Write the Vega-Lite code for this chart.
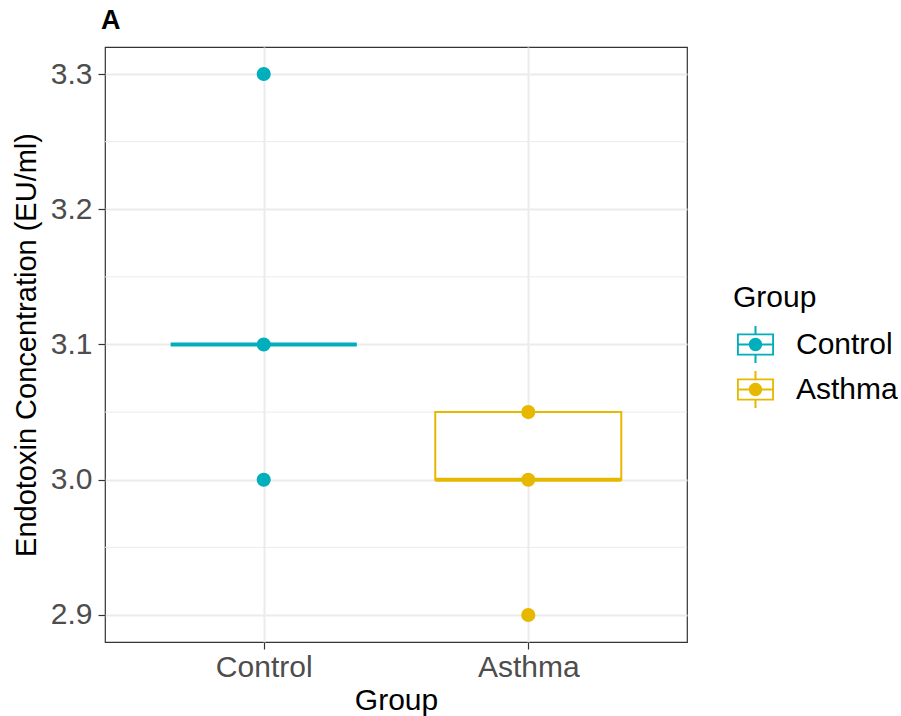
{
  "$schema": "https://vega.github.io/schema/vega-lite/v6.json",
  "width": 582,
  "height": 595,
  "autosize": {"type": "none"},
  "padding": {"left": 105, "top": 47, "right": 214, "bottom": 74},
  "background": "white",
  "title": {"text": "A", "anchor": "start", "frame": "group", "fontSize": 27, "fontWeight": "bold", "font": "Liberation Sans", "color": "black", "offset": 14, "baseline": "alphabetic", "dx": -4, "dy": 23},
  "datasets": {
    "points": [
      {"group": "Control", "value": 3.3},
      {"group": "Control", "value": 3.1},
      {"group": "Control", "value": 3.0},
      {"group": "Asthma", "value": 3.05},
      {"group": "Asthma", "value": 3.0},
      {"group": "Asthma", "value": 2.9}
    ],
    "boxes": [
      {"group": "Control", "q1": 3.1, "median": 3.1, "q3": 3.1},
      {"group": "Asthma", "q1": 3.0, "median": 3.0, "q3": 3.05}
    ],
    "minor": [{"v": 2.95}, {"v": 3.05}, {"v": 3.15}, {"v": 3.25}]
  },
  "layer": [
    {
      "data": {"name": "minor"},
      "mark": {"type": "rule", "color": "#EBEBEB", "strokeWidth": 1},
      "encoding": {
        "y": {"field": "v", "type": "quantitative", "scale": {"domain": [2.88, 3.32], "nice": false, "zero": false},
          "axis": {"title": "Endotoxin Concentration (EU/ml)", "values": [2.9, 3.0, 3.1, 3.2, 3.3], "format": ".1f"}}
      }
    },
    {
      "data": {"name": "boxes"},
      "mark": {"type": "bar", "width": 186, "fill": "white", "strokeWidth": 0},
      "encoding": {
        "x": {"field": "group", "type": "nominal", "scale": {"type": "point", "padding": 0.6, "domain": ["Control", "Asthma"]}, "axis": {"title": "Group", "labelAngle": 0}},
        "y": {"field": "q1", "type": "quantitative", "scale": {"domain": [2.88, 3.32], "nice": false, "zero": false},
          "axis": {"title": "Endotoxin Concentration (EU/ml)", "values": [2.9, 3.0, 3.1, 3.2, 3.3], "format": ".1f"}},
        "y2": {"field": "q3"}
      }
    },
    {
      "data": {"name": "boxes"},
      "mark": {"type": "bar", "width": 186, "filled": false, "strokeWidth": 2, "opacity": 1},
      "encoding": {
        "x": {"field": "group", "type": "nominal", "scale": {"type": "point", "padding": 0.6, "domain": ["Control", "Asthma"]}, "axis": {"title": "Group", "labelAngle": 0}},
        "y": {"field": "q1", "type": "quantitative", "scale": {"domain": [2.88, 3.32], "nice": false, "zero": false},
          "axis": {"title": "Endotoxin Concentration (EU/ml)", "values": [2.9, 3.0, 3.1, 3.2, 3.3], "format": ".1f"}},
        "y2": {"field": "q3"},
        "color": {"field": "group", "type": "nominal", "scale": {"domain": ["Control", "Asthma"], "range": ["#00AFBB", "#E7B800"]}}
      }
    },
    {
      "data": {"name": "boxes"},
      "mark": {"type": "tick", "size": 186, "thickness": 4, "opacity": 1},
      "encoding": {
        "x": {"field": "group", "type": "nominal", "scale": {"type": "point", "padding": 0.6, "domain": ["Control", "Asthma"]}, "axis": {"title": "Group", "labelAngle": 0}},
        "y": {"field": "median", "type": "quantitative", "scale": {"domain": [2.88, 3.32], "nice": false, "zero": false},
          "axis": {"title": "Endotoxin Concentration (EU/ml)", "values": [2.9, 3.0, 3.1, 3.2, 3.3], "format": ".1f"}},
        "color": {"field": "group", "type": "nominal", "scale": {"domain": ["Control", "Asthma"], "range": ["#00AFBB", "#E7B800"]}}
      }
    },
    {
      "data": {"name": "points"},
      "mark": {"type": "point", "filled": true, "size": 200, "opacity": 1, "strokeWidth": 0},
      "encoding": {
        "x": {"field": "group", "type": "nominal", "scale": {"type": "point", "padding": 0.6, "domain": ["Control", "Asthma"]}, "axis": {"title": "Group", "labelAngle": 0}},
        "y": {"field": "value", "type": "quantitative", "scale": {"domain": [2.88, 3.32], "nice": false, "zero": false},
          "axis": {"title": "Endotoxin Concentration (EU/ml)", "values": [2.9, 3.0, 3.1, 3.2, 3.3], "format": ".1f"}},
        "color": {"field": "group", "type": "nominal", "scale": {"domain": ["Control", "Asthma"], "range": ["#00AFBB", "#E7B800"]},
          "legend": {
            "title": "Group", "orient": "none", "legendX": 628, "legendY": 236, "padding": 0,
            "symbolType": "M-1,-0.6H1V0.6H-1Z M-0.9,-0.5V0.5H0.9V-0.5Z M-0.9,-0.055H0.9V0.055H-0.9Z M-0.055,-1H0.055V-0.6H-0.055Z M-0.055,0.6H0.055V1H-0.055Z M-0.36,0A0.36,0.36 0 1 1 0.36,0A0.36,0.36 0 1 1 -0.36,0Z",
            "symbolSize": 1369, "symbolStrokeWidth": 0, "symbolOpacity": 1, "symbolOffset": 4,
            "labelOffset": 22, "rowPadding": 8, "titlePadding": 13,
            "titleFontSize": 30, "labelFontSize": 30, "titleFontWeight": "normal",
            "titleFont": "Liberation Sans", "labelFont": "Liberation Sans",
            "titleColor": "black", "labelColor": "black", "labelLimit": 300,
            "encode": {"symbols": {"update": {"fill": {"scale": "color", "field": "value"}, "strokeWidth": {"value": 0}, "opacity": {"value": 1}}}}
          }}
      }
    }
  ],
  "config": {
    "view": {"stroke": "#333333", "strokeWidth": 1.2},
    "axis": {
      "domain": false,
      "grid": true, "gridColor": "#EBEBEB", "gridWidth": 2,
      "ticks": true, "tickColor": "#333333", "tickWidth": 1.2, "tickSize": 7,
      "labelFont": "Liberation Sans", "labelFontSize": 30, "labelColor": "#4D4D4D",
      "titleFont": "Liberation Sans", "titleFontSize": 29, "titleColor": "black", "titleFontWeight": "normal"
    },
    "axisX": {"labelPadding": 3, "titlePadding": 3, "titleFontSize": 30},
    "axisY": {"labelPadding": 6, "titlePadding": 9}
  }
}
